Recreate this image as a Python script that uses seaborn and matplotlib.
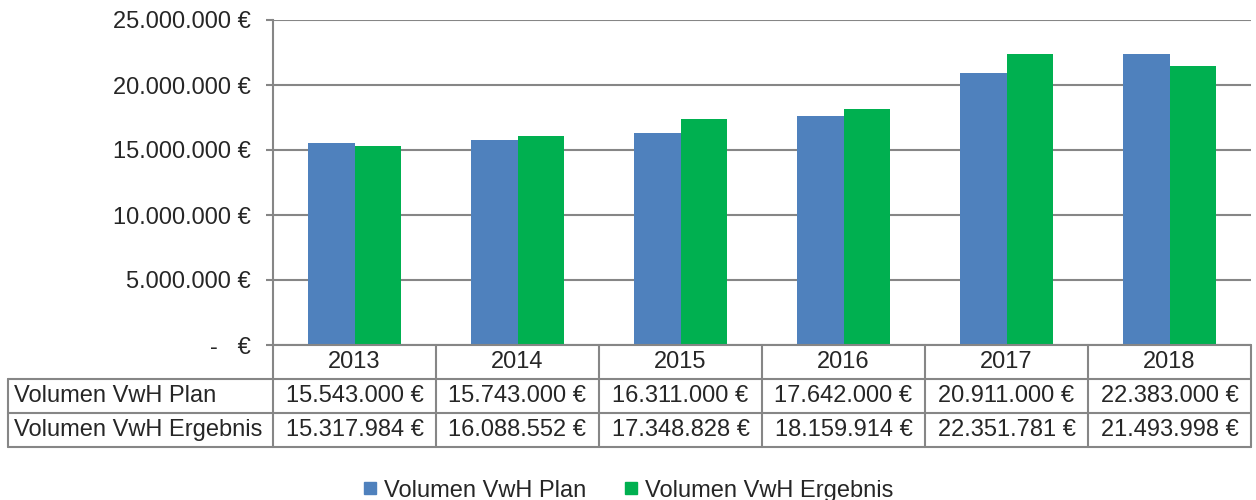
import numpy as np
import pandas as pd
import matplotlib
matplotlib.use("Agg")
import matplotlib.pyplot as plt
import seaborn as sns
from matplotlib.ticker import FuncFormatter
from matplotlib.lines import Line2D

years = ["2013", "2014", "2015", "2016", "2017", "2018"]
plan = [15543000, 15743000, 16311000, 17642000, 20911000, 22383000]
ergebnis = [15317984, 16088552, 17348828, 18159914, 22351781, 21493998]
series_names = ["Volumen VwH Plan", "Volumen VwH Ergebnis"]
colors = ["#4F81BD", "#00B050"]

sns.set_style("white")
plt.rcParams['font.family'] = ['Liberation Sans', 'DejaVu Sans']
plt.rcParams['font.size'] = 17

grid_col = "#868686"

def euro(v):
    if v == 0:
        return "-   €"
    return "{:,.0f}".format(v).replace(",", ".") + " €"

df = pd.DataFrame({
    "Jahr": years * 2,
    "Wert": plan + ergebnis,
    "Serie": [series_names[0]] * len(years) + [series_names[1]] * len(years),
})

fig = plt.figure(figsize=(12.56, 5), dpi=100)
ax = fig.add_axes([273 / 1256, 1 - 345 / 500, (1251 - 273) / 1256, 325 / 500])

sns.barplot(data=df, x="Jahr", y="Wert", hue="Serie", palette=colors, saturation=1,
            width=0.565, linewidth=0, ax=ax, legend=False)

ax.set_ylim(0, 25000000)
ax.set_xlim(-0.5, len(years) - 0.5)
ax.set_yticks(np.arange(0, 25000001, 5000000))
ax.yaxis.set_major_formatter(FuncFormatter(lambda v, p: euro(v)))
ax.set_xticks([])
ax.set_xlabel("")
ax.set_ylabel("")
ax.grid(axis="y", color=grid_col, linewidth=1.5)
ax.set_axisbelow(True)
for s in ["top", "right", "bottom"]:
    ax.spines[s].set_visible(False)
ax.spines["left"].set_color(grid_col)
ax.spines["left"].set_linewidth(1.5)
ax.tick_params(axis="y", direction="out", length=5, width=1.5, color=grid_col,
               pad=11, labelsize=17, left=True)

# data table under the plot
row_h = 34 / 325
lab_left = (8 - 273) / 978
trans = ax.get_xaxis_transform()
lw = 1.5
kw = dict(color=grid_col, linewidth=lw, clip_on=False)

# horizontal lines
ax.add_line(Line2D([-0.5, len(years) - 0.5], [0, 0], transform=trans, **kw))
for k in range(1, 4):
    ax.add_line(Line2D([lab_left, 1], [-k * row_h, -k * row_h],
                       transform=ax.transAxes, **kw))
# vertical lines
for i in range(len(years) + 1):
    ax.add_line(Line2D([i - 0.5, i - 0.5], [0, -3 * row_h], transform=trans, **kw))
ax.add_line(Line2D([lab_left, lab_left], [-row_h, -3 * row_h],
                   transform=ax.transAxes, **kw))

for i, y in enumerate(years):
    ax.text(i, -0.5 * row_h, y, transform=trans, ha="center", va="center", fontsize=17)
    ax.text(i, -1.5 * row_h, euro(plan[i]), transform=trans, ha="center", va="center", fontsize=17)
    ax.text(i, -2.5 * row_h, euro(ergebnis[i]), transform=trans, ha="center", va="center", fontsize=17)
for k, name in enumerate(series_names):
    ax.text(lab_left + 0.006, -(1.5 + k) * row_h, name, transform=ax.transAxes,
            ha="left", va="center", fontsize=17)

handles = [Line2D([], [], marker="s", linestyle="none", markersize=9,
                  markerfacecolor=c, markeredgecolor=c) for c in colors]
fig.legend(handles, series_names, loc="lower center", bbox_to_anchor=(0.5, -0.046),
           ncol=2, frameon=False, fontsize=17, handlelength=0.6, handletextpad=0.3,
           columnspacing=1.6)

fig.savefig("out.png", dpi=100)
